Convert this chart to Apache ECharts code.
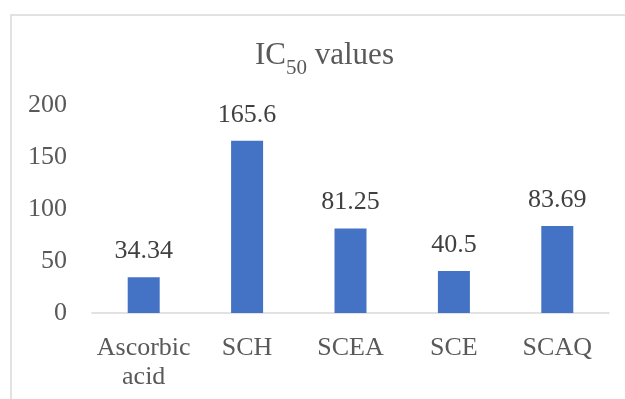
<!DOCTYPE html>
<html>
<head>
<meta charset="utf-8">
<style>
  html, body { margin: 0; padding: 0; background: #ffffff; }
  #chart { width: 625px; height: 399px; }
</style>
<script src="https://cdn.jsdelivr.net/npm/echarts@6/dist/echarts.min.js"></script>
</head>
<body>
<div id="chart"></div>
<script>
// IC50 values per sample
const categories = ['Ascorbic\nacid', 'SCH', 'SCEA', 'SCE', 'SCAQ'];
const ic50Values = [34.34, 165.6, 81.25, 40.5, 83.69];
const yTicks = { min: 0, max: 200, interval: 50 };

const textColor = '#595959';
const serif = 'Liberation Serif';

const chart = echarts.init(document.getElementById('chart'), null, { renderer: 'canvas' });

chart.setOption({
  backgroundColor: '#ffffff',
  animation: false,
  graphic: [
    {
      // chart area outline (continues past the right and bottom edges)
      type: 'rect',
      shape: { x: 11, y: 15, width: 700, height: 500 },
      style: { fill: 'none', stroke: '#d9d9d9', lineWidth: 1.5 },
      silent: true,
      z: -1
    },
    {
      // title with a lowered subscript
      type: 'text',
      left: 255,
      top: 40,
      style: {
        text: '{m|IC}{s|50}{m| values}',
        rich: {
          m: { fontFamily: serif, fontSize: 31, fill: textColor, verticalAlign: 'top', lineHeight: 35 },
          s: { fontFamily: serif, fontSize: 21, fill: textColor, verticalAlign: 'top', lineHeight: 20, padding: [18, 0, 0, 0] }
        }
      }
    }
  ],
  grid: { left: 92, right: 16, top: 105, bottom: 86, containLabel: false },
  xAxis: {
    type: 'category',
    data: categories,
    axisLine: { show: true, lineStyle: { color: '#d9d9d9', width: 1.5 } },
    axisTick: { show: false },
    axisLabel: {
      color: textColor,
      fontFamily: serif,
      fontSize: 26,
      lineHeight: 29,
      margin: 21,
      interval: 0
    }
  },
  yAxis: {
    type: 'value',
    min: yTicks.min,
    max: yTicks.max,
    interval: yTicks.interval,
    axisLine: { show: false },
    axisTick: { show: false },
    splitLine: { show: false },
    axisLabel: { color: textColor, fontFamily: serif, fontSize: 26, margin: 25 }
  },
  series: [
    {
      type: 'bar',
      data: ic50Values,
      barWidth: 32,
      itemStyle: { color: '#4472C4' },
      label: {
        show: true,
        position: 'top',
        distance: 13,
        color: '#404040',
        fontFamily: serif,
        fontSize: 26,
        formatter: (p) => String(p.value)
      }
    }
  ]
});
</script>
</body>
</html>
